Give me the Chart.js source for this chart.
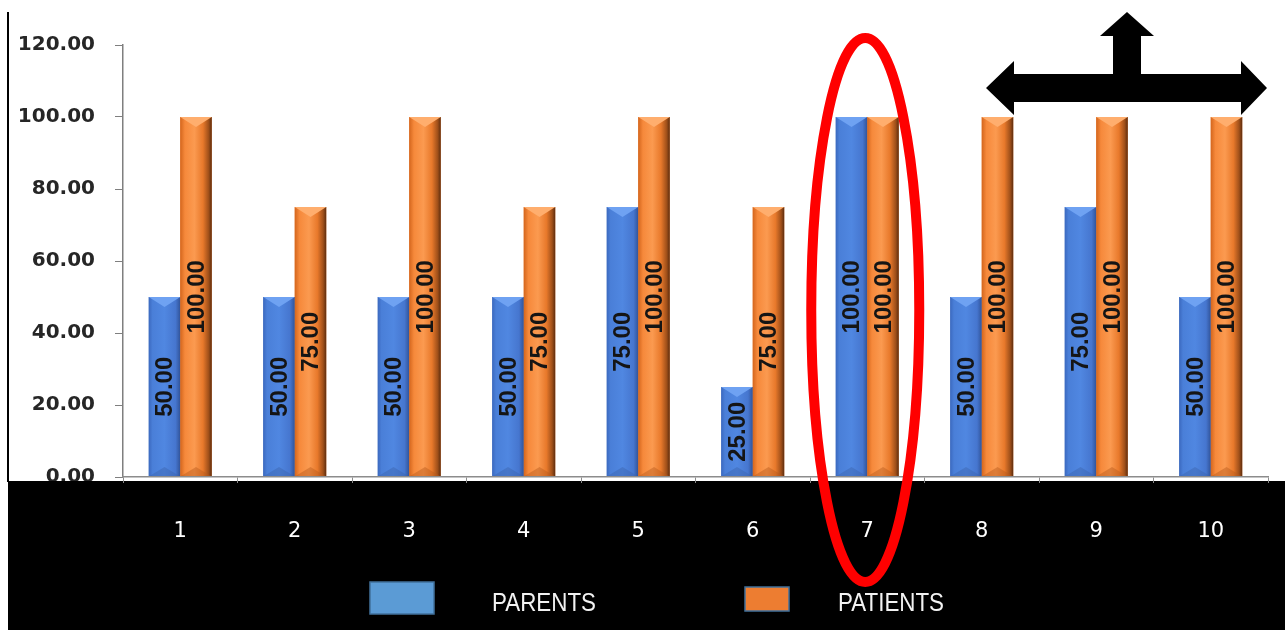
<!DOCTYPE html>
<html>
<head>
<meta charset="utf-8">
<script src="https://cdn.jsdelivr.net/npm/chart.js@4.4.1/dist/chart.umd.min.js"></script>
<style>
    html, body { margin: 0; padding: 0; background: #ffffff; }
    canvas { display: block; }
</style>
</head>
<body>
<canvas id="graficoBarras" width="1285" height="630"></canvas>
<script>
// Categorias e valores de cada série
const categorias = ["1", "2", "3", "4", "5", "6", "7", "8", "9", "10"];
const valoresParents = [50, 50, 50, 50, 75, 25, 100, 50, 75, 50];
const valoresPatients = [100, 75, 100, 75, 100, 75, 100, 100, 100, 100];
const ticksY = [0, 20, 40, 60, 80, 100, 120];

// Cores base e degradês para o efeito de bisel das barras
const estilos = {
    PARENTS: {
        base: "#4472C4",
        legenda: "#5B9BD5",
        topo: "#6fa2f2",
        fundo: "#3b64ad",
        degrade: [[0, "#3b69bf"], [0.12, "#4a7fd8"], [0.5, "#5087e1"], [0.85, "#4676cf"], [1, "#31549a"]]
    },
    PATIENTS: {
        base: "#ED7D31",
        legenda: "#ED7D31",
        topo: "#ffae6e",
        fundo: "#b85c1c",
        degrade: [[0, "#d4661d"], [0.15, "#f6893b"], [0.45, "#fb9a50"], [0.72, "#e8792b"], [0.9, "#a0501a"], [1, "#5e2d0e"]]
    }
};

// Faixa preta do rodapé, linha lateral e bisel das barras
const pluginFundo = {
    id: "fundo",
    afterDatasetsDraw(chart) {
        const ctx = chart.ctx;

        // barras com degradê e faceta superior
        chart.data.datasets.forEach((ds, i) => {
            const meta = chart.getDatasetMeta(i);
            const estilo = estilos[ds.label];
            meta.data.forEach((barra) => {
                const { x, y, base, width } = barra.getProps(["x", "y", "base", "width"], true);
                const esq = x - width / 2;
                const dir = x + width / 2;
                const grad = ctx.createLinearGradient(esq, 0, dir, 0);
                estilo.degrade.forEach(([p, c]) => grad.addColorStop(p, c));
                ctx.save();
                ctx.fillStyle = grad;
                ctx.fillRect(esq, y, width, base - y);

                // faceta superior (V)
                ctx.fillStyle = estilo.topo;
                ctx.beginPath();
                ctx.moveTo(esq, y);
                ctx.lineTo(dir, y);
                ctx.lineTo(x, y + width * 0.32);
                ctx.closePath();
                ctx.fill();

                // faceta inferior
                ctx.globalAlpha = 0.45;
                ctx.fillStyle = estilo.fundo;
                ctx.beginPath();
                ctx.moveTo(esq, base);
                ctx.lineTo(dir, base);
                ctx.lineTo(x, base - width * 0.3);
                ctx.closePath();
                ctx.fill();
                ctx.restore();
            });
        });

        // rótulos de valor, girados na vertical
        chart.data.datasets.forEach((ds, i) => {
            const meta = chart.getDatasetMeta(i);
            meta.data.forEach((barra, j) => {
                const { x, y, base } = barra.getProps(["x", "y", "base"], true);
                ctx.save();
                ctx.translate(x, (y + base) / 2);
                ctx.rotate(-Math.PI / 2);
                ctx.font = "bold 24px 'Liberation Sans', Arial, sans-serif";
                ctx.fillStyle = "#151515";
                ctx.textAlign = "center";
                ctx.textBaseline = "middle";
                ctx.fillText(ds.data[j].toFixed(2), 0, 1);
                ctx.restore();
            });
        });

        // faixa preta sob o eixo X
        ctx.save();
        ctx.fillStyle = "#000000";
        ctx.fillRect(8, 481, chart.width - 8, chart.height - 481);

        // linha vertical à esquerda
        ctx.fillRect(7, 12, 2, 470);
        ctx.restore();
    }
};

// Legenda desenhada na faixa preta
const pluginLegenda = {
    id: "legendaManual",
    afterDraw(chart, args, opts) {
        const ctx = chart.ctx;
        chart.data.datasets.forEach((ds, i) => {
            const item = opts.itens[i];
            ctx.save();
            ctx.fillStyle = estilos[ds.label].legenda;
            ctx.strokeStyle = "#41719C";
            ctx.lineWidth = 1.5;
            ctx.fillRect(item.caixa[0], item.caixa[1], item.caixa[2], item.caixa[3]);
            ctx.strokeRect(item.caixa[0], item.caixa[1], item.caixa[2], item.caixa[3]);
            ctx.fillStyle = "#f2f2f2";
            ctx.font = "26px 'Liberation Sans', Arial, sans-serif";
            ctx.textBaseline = "middle";
            ctx.translate(item.texto[0], item.texto[1]);
            ctx.scale(0.86, 1);
            ctx.fillText(ds.label, 0, 0);
            ctx.restore();
        });
    }
};

// Destaques: elipse vermelha e seta preta
const pluginDestaques = {
    id: "destaques",
    afterDraw(chart) {
        const ctx = chart.ctx;
        ctx.save();

        // elipse em volta do grupo 7
        const xs = chart.scales.x;
        const cx = xs.getPixelForValue(6);
        ctx.strokeStyle = "#ff0000";
        ctx.lineWidth = 10;
        ctx.beginPath();
        ctx.ellipse(cx - 2, 310, 54, 272, 0, 0, Math.PI * 2);
        ctx.stroke();

        // seta tripla
        ctx.fillStyle = "#000000";
        ctx.beginPath();
        ctx.moveTo(986, 88);
        ctx.lineTo(1014, 61);
        ctx.lineTo(1014, 74);
        ctx.lineTo(1113, 74);
        ctx.lineTo(1113, 36);
        ctx.lineTo(1100, 36);
        ctx.lineTo(1127, 12);
        ctx.lineTo(1154, 36);
        ctx.lineTo(1141, 36);
        ctx.lineTo(1141, 74);
        ctx.lineTo(1241, 74);
        ctx.lineTo(1241, 61);
        ctx.lineTo(1267, 88);
        ctx.lineTo(1241, 115);
        ctx.lineTo(1241, 102);
        ctx.lineTo(1014, 102);
        ctx.lineTo(1014, 115);
        ctx.closePath();
        ctx.fill();
        ctx.restore();
    }
};

const contexto = document.getElementById("graficoBarras").getContext("2d");

const grafico = new Chart(contexto, {
    type: "bar",
    data: {
        labels: categorias,
        datasets: [
            {
                label: "PARENTS",
                data: valoresParents,
                backgroundColor: estilos.PARENTS.base,
                categoryPercentage: 0.55,
                barPercentage: 1
            },
            {
                label: "PATIENTS",
                data: valoresPatients,
                backgroundColor: estilos.PATIENTS.base,
                categoryPercentage: 0.55,
                barPercentage: 1
            }
        ]
    },
    options: {
        responsive: false,
        animation: false,
        devicePixelRatio: 1,
        layout: {
            padding: { top: 45, right: 17, left: 0, bottom: 0 }
        },
        plugins: {
            legend: { display: false },
            tooltip: { enabled: false },
            legendaManual: {
                itens: [
                    { caixa: [370, 582, 64, 32], texto: [492, 604] },
                    { caixa: [745, 587, 44, 24], texto: [838, 604] }
                ]
            }
        },
        scales: {
            x: {
                grid: {
                    drawOnChartArea: false,
                    tickLength: 6,
                    color: "#8c8c8c",
                    z: 1
                },
                border: { color: "#8c8c8c", width: 1.5, z: 1 },
                ticks: {
                    color: "#ffffff",
                    padding: 36,
                    font: { family: "'DejaVu Sans', sans-serif", size: 21 },
                    z: 1
                },
                afterFit(scale) {
                    scale.height = 153;
                }
            },
            y: {
                min: 0,
                max: 120,
                afterBuildTicks(scale) {
                    scale.ticks = ticksY.map((v) => ({ value: v }));
                },
                grid: {
                    drawOnChartArea: false,
                    tickLength: 8,
                    color: "#7f7f7f"
                },
                border: { color: "#7f7f7f", width: 1.5 },
                ticks: {
                    color: "#262626",
                    padding: 20,
                    font: { family: "'DejaVu Sans', sans-serif", size: 20, weight: "bold" },
                    callback: (v) => Number(v).toFixed(2)
                },
                afterFit(scale) {
                    scale.width = 123;
                }
            }
        }
    },
    plugins: [pluginFundo, pluginLegenda, pluginDestaques]
});
</script>
</body>
</html>
